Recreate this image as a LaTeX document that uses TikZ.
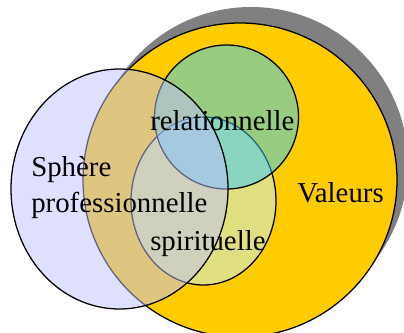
\documentclass[tikz,border=0pt]{standalone}
\usepackage{fontspec}
\setmainfont{Liberation Serif}
\definecolor{valeurs}{HTML}{FFCC00}
\definecolor{ombre}{HTML}{808080}
\definecolor{spirit}{HTML}{E0E080}
\definecolor{relation}{RGB}{51,204,255}
\definecolor{sphere}{RGB}{193,193,255}

\begin{document}
\begin{tikzpicture}[scale=0.025, yscale=-1,
  every node/.style={font=\fontsize{20.5}{25}\selectfont, inner sep=0pt},
  zone/.style={draw=black, line width=0.9pt},
  voile/.style={zone, fill opacity=0.5}]
\clip (0,0) rectangle (404,332);
\fill[white] (0,0) rectangle (404,332);
%% --- Valeurs: shadow and big circle ---
\fill[ombre] (251,164) circle (157);
\draw[zone, fill=valeurs] (240,180) circle (157);
%% --- inner spheres ---
\draw[zone, fill=spirit] (203.5,201) ellipse (72.5 and 84);
\draw[voile, fill=relation] (226.5,117) circle (72);
\draw[voile, fill=sphere] (119.5,189) ellipse (108.5 and 120);
%% --- labels ---
\node[anchor=base west] (rel) at (150,130) {relationnelle};
\node[anchor=base west, align=left] (pro) at (31,212) {Sphère\\professionnelle};
\node[anchor=base west] (spi) at (150,250) {spirituelle};
\node[anchor=base west] (val) at (297,202) {Valeurs};
\end{tikzpicture}
\end{document}
